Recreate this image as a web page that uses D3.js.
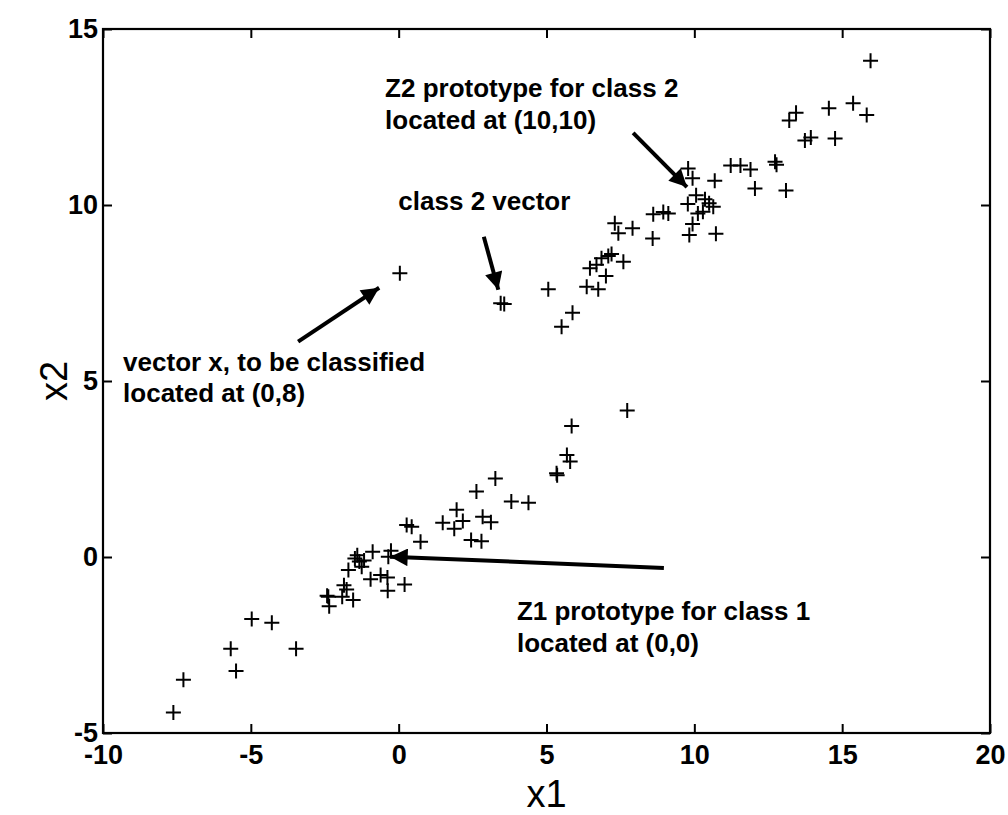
<!DOCTYPE html>
<html>
<head>
<meta charset="utf-8">
<script src="https://cdn.jsdelivr.net/npm/d3@7"></script>
<style>
  html, body { margin: 0; padding: 0; background: #fff; }
  svg { display: block; }
  text { font-family: "Liberation Sans", Arial, Helvetica, sans-serif; fill: #000; }
</style>
</head>
<body>
<svg id="chart" width="1008" height="815"></svg>
<script>
// Class 1 samples (clustered around the Z1 prototype)
const class1X = [-7.62, -7.28, -5.68, -5.50, -4.97, -4.29, -3.47, -2.38, -2.42, -2.35,
                 -1.91, -1.85, -1.76, -1.54, -1.70, -1.40, -1.48, -1.33, -1.17, -1.25,
                 -0.88, -0.95, -0.61, -0.38, -0.37, -0.26, -0.35, 0.20, 0.27, 0.44,
                 0.74, 1.49, 1.88, 1.96, 2.17, 2.45, 2.80, 2.63, 2.84, 3.12,
                 3.27, 3.81, 4.39, 5.34, 5.36, 5.69, 5.80, 5.85, 7.73];
const class1Y = [-4.42, -3.49, -2.61, -3.24, -1.76, -1.87, -2.61, -1.13, -1.10, -1.40,
                 -1.13, -0.80, -0.92, -1.22, -0.37, 0.05, -0.04, -0.13, -0.10, -0.28,
                 0.15, -0.63, -0.51, -0.58, -0.96, 0.18, 0.01, -0.78, 0.91, 0.86,
                 0.43, 0.97, 0.80, 1.34, 1.02, 0.48, 0.45, 1.86, 1.14, 0.99,
                 2.23, 1.58, 1.54, 2.38, 2.32, 2.90, 2.71, 3.72, 4.16];

// Class 2 samples (clustered around the Z2 prototype), plus the vector x at (0,8)
const class2X = [0.04, 3.45, 3.57, 5.06, 5.51, 5.88, 6.36, 6.75, 6.47, 6.69,
                 7.01, 6.86, 7.09, 7.20, 7.60, 7.31, 7.43, 7.91, 8.59, 8.61,
                 8.95, 9.12, 9.79, 9.94, 10.69, 10.06, 9.78, 10.36, 10.50, 10.64,
                 10.12, 10.29, 9.94, 9.83, 10.73, 11.23, 11.56, 11.90, 12.05, 12.73,
                 12.78, 13.10, 13.21, 13.44, 13.74, 13.94, 14.55, 14.76, 15.37, 15.83,
                 15.96];
const class2Y = [8.06, 7.21, 7.19, 7.61, 6.54, 6.94, 7.68, 7.61, 8.20, 8.30,
                 7.98, 8.49, 8.55, 8.61, 8.39, 9.48, 9.20, 9.34, 9.05, 9.74,
                 9.80, 9.76, 11.04, 10.76, 10.69, 10.28, 10.03, 10.16, 10.05, 9.95,
                 9.76, 9.81, 9.46, 9.15, 9.18, 11.12, 11.12, 11.01, 10.47, 11.23,
                 11.14, 10.41, 12.40, 12.62, 11.83, 11.92, 12.75, 11.89, 12.89, 12.56,
                 14.10];

// Axis tick values
const xTicks = [-10, -5, 0, 5, 10, 15, 20];
const yTicks = [-5, 0, 5, 10, 15];

// Annotation text (left edge / baseline in data units) and arrows (tail -> tip)
const noteLines = [
  { x: -0.46, y: 13.07, text: "Z2 prototype for class 2" },
  { x: -0.46, y: 12.17, text: "located at (10,10)" },
  { x: -0.01, y: 9.86,  text: "class 2 vector" },
  { x: -9.32, y: 5.29,  text: "vector x, to be classified" },
  { x: -9.32, y: 4.41,  text: "located at (0,8)" },
  { x: 4.00,  y: -1.79, text: "Z1 prototype for class 1" },
  { x: 4.00,  y: -2.70, text: "located at (0,0)" }
];
const arrows = [
  { x1: 7.93, y1: 12.05, x2: 9.75, y2: 10.51 },
  { x1: 2.88, y1: 9.10,  x2: 3.37, y2: 7.59 },
  { x1: -3.40, y1: 6.12, x2: -0.66, y2: 7.65 },
  { x1: 8.97, y1: -0.31, x2: -0.29, y2: 0.01 }
];

const margin = { left: 103, right: 18, top: 29, bottom: 82 };
const W = 1008, H = 815;
const svg = d3.select("#chart");

const x = d3.scaleLinear().domain([-10, 20]).range([margin.left, W - margin.right]);
const y = d3.scaleLinear().domain([-5, 15]).range([H - margin.bottom, margin.top]);

const plotW = x.range()[1] - x.range()[0];
const plotH = y.range()[0] - y.range()[1];
const tickLen = 9;
const fmt = d => d3.format("d")(d).replace("\u2212", "-");

// Bottom axis with labels, inward ticks
const gx = svg.append("g").attr("transform", `translate(0,${y(-5)})`)
  .call(d3.axisBottom(x).tickValues(xTicks).tickSizeInner(-tickLen).tickSizeOuter(0)
        .tickPadding(12).tickFormat(fmt));
// Top axis, ticks only
const gxt = svg.append("g").attr("transform", `translate(0,${y(15)})`)
  .call(d3.axisTop(x).tickValues(xTicks).tickSizeInner(-tickLen).tickSizeOuter(0).tickFormat(""));
// Left axis with labels
const gy = svg.append("g").attr("transform", `translate(${x(-10)},0)`)
  .call(d3.axisLeft(y).tickValues(yTicks).tickSizeInner(-tickLen).tickSizeOuter(0)
        .tickPadding(5).tickFormat(fmt));
// Right axis, ticks only
const gyr = svg.append("g").attr("transform", `translate(${x(20)},0)`)
  .call(d3.axisRight(y).tickValues(yTicks).tickSizeInner(-tickLen).tickSizeOuter(0).tickFormat(""));

[gx, gxt, gy, gyr].forEach(g => {
  g.select(".domain").remove();
  g.selectAll(".tick line").attr("stroke", "#000").attr("stroke-width", 2);
  g.selectAll(".tick text")
    .style("font-family", '"Liberation Sans", Arial, sans-serif')
    .style("font-size", "27px")
    .style("font-weight", "bold")
    .attr("fill", "#000");
});

// Plot box
svg.append("rect")
  .attr("x", x(-10)).attr("y", y(15))
  .attr("width", plotW).attr("height", plotH)
  .attr("fill", "none").attr("stroke", "#000").attr("stroke-width", 2.2);

// Plus-sign markers
const pts = class1X.map((v, i) => [v, class1Y[i]])
  .concat(class2X.map((v, i) => [v, class2Y[i]]));
const half = 7.5;
const marks = svg.append("g").attr("stroke", "#000").attr("stroke-width", 2);
marks.selectAll("path.pt").data(pts).join("path")
  .attr("class", "pt")
  .attr("d", d => {
    const px = x(d[0]), py = y(d[1]);
    return `M${px - half},${py}H${px + half}M${px},${py - half}V${py + half}`;
  })
  .attr("fill", "none");

// Arrows
const defs = svg.append("defs");
defs.append("marker")
  .attr("id", "head")
  .attr("viewBox", "0 0 10 10")
  .attr("refX", 10).attr("refY", 5)
  .attr("markerWidth", 6.2).attr("markerHeight", 4.4)
  .attr("markerUnits", "strokeWidth")
  .attr("orient", "auto")
  .append("path").attr("d", "M0,0L10,5L0,10Z").attr("fill", "#000");

svg.append("g").selectAll("line").data(arrows).join("line")
  .attr("x1", d => x(d.x1)).attr("y1", d => y(d.y1))
  .attr("x2", d => x(d.x2)).attr("y2", d => y(d.y2))
  .attr("stroke", "#000").attr("stroke-width", 4)
  .attr("marker-end", "url(#head)");

// Annotation text
svg.append("g").selectAll("text").data(noteLines).join("text")
  .attr("x", d => x(d.x)).attr("y", d => y(d.y))
  .style("font-size", "26px").style("font-weight", "bold")
  .text(d => d.text);

// Axis titles
svg.append("text")
  .attr("x", (x.range()[0] + x.range()[1]) / 2).attr("y", 807)
  .attr("text-anchor", "middle")
  .style("font-size", "38px")
  .text("x1");
svg.append("text")
  .attr("transform", `translate(67,${(y.range()[0] + y.range()[1]) / 2}) rotate(-90)`)
  .attr("text-anchor", "middle")
  .style("font-size", "38px")
  .text("x2");
</script>
</body>
</html>
